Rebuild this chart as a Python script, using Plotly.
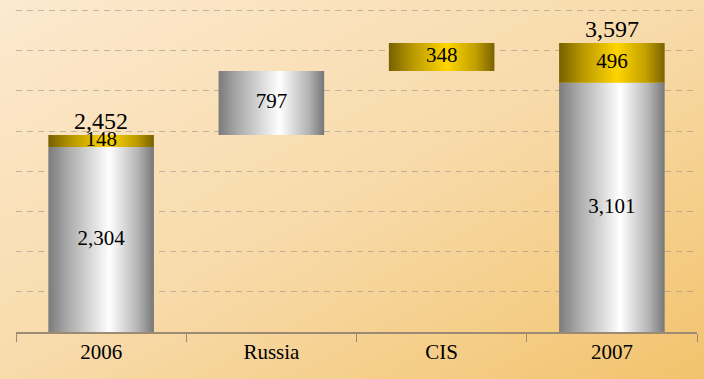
import base64
import plotly.graph_objects as go

# Waterfall: 2006 total, contributions from Russia and CIS, 2007 total
categories = ["2006", "Russia", "CIS", "2007"]
silver_values = [2304, 797, 0, 3101]   # core / Russia segment
gold_values = [148, 0, 348, 496]       # CIS segment
totals = [2452, None, None, 3597]
is_total = [True, False, False, True]

BAR_W = 0.62
FONT = "Liberation Serif, Times New Roman, serif"

SILVER = [[0.0, "#7b7b7b"], [0.18, "#a9a9a9"], [0.58, "#ffffff"],
          [0.85, "#b4b4b4"], [1.0, "#777777"]]
GOLD = [[0.0, "#766000"], [0.22, "#b89800"], [0.55, "#ffd500"],
        [0.82, "#c2a000"], [1.0, "#7a6200"]]

fig = go.Figure()


def add_block(i, bottom, top, scale):
    x0, x1 = i - BAR_W / 2, i + BAR_W / 2
    fig.add_trace(go.Scatter(
        x=[x0, x1, x1, x0, x0], y=[bottom, bottom, top, top, bottom],
        mode="lines", fill="toself", line=dict(width=0, color="rgba(0,0,0,0)"),
        fillgradient=dict(type="horizontal", colorscale=scale),
        hoverinfo="skip", showlegend=False))


label_x, label_y, label_t = [], [], []
running = 0
for i, cat in enumerate(categories):
    base = 0 if is_total[i] else running
    s, g = silver_values[i], gold_values[i]
    if s:
        add_block(i, base, base + s, SILVER)
        label_x.append(i); label_y.append(base + s / 2); label_t.append(f"{s:,}")
    if g:
        add_block(i, base + s, base + s + g, GOLD)
        label_x.append(i); label_y.append(base + s + g / 2); label_t.append(f"{g:,}")
    running = base + s + g

fig.add_trace(go.Scatter(
    x=label_x, y=label_y, text=label_t, mode="text",
    textfont=dict(family=FONT, size=21, color="#000000"),
    textposition="middle center", hoverinfo="skip", showlegend=False))

for i, t in enumerate(totals):
    if t is not None:
        fig.add_annotation(x=i, y=t, text=f"{t:,}", showarrow=False,
                           yanchor="middle", yshift=14,
                           font=dict(family=FONT, size=24, color="#000000"))

# Diagonal warm background across the whole page
svg = ('<svg xmlns="http://www.w3.org/2000/svg" width="704" height="379">'
       '<defs><linearGradient id="g" x1="0" y1="0" x2="1" y2="1">'
       '<stop offset="0" stop-color="#fce9cf"/>'
       '<stop offset="0.5" stop-color="#f8dbab"/>'
       '<stop offset="1" stop-color="#f2c36c"/>'
       '</linearGradient></defs>'
       '<rect width="704" height="379" fill="url(#g)"/></svg>')
bg_uri = "data:image/svg+xml;base64," + base64.b64encode(svg.encode()).decode()

ML, MR, MT, MB = 16, 7, 0, 47
PW, PH = 704 - ML - MR, 379 - MT - MB
fig.add_layout_image(dict(
    source=bg_uri, xref="paper", yref="paper",
    x=-ML / PW, y=1 + MT / PH, sizex=704 / PW, sizey=379 / PH,
    xanchor="left", yanchor="top", sizing="stretch", layer="below"))

fig.update_layout(
    width=704, height=379,
    margin=dict(l=ML, r=MR, t=MT, b=MB),
    paper_bgcolor="#f8dbab", plot_bgcolor="rgba(0,0,0,0)",
    font=dict(family=FONT, size=21, color="#000000"),
    xaxis=dict(range=[-0.5, 3.5], tickvals=list(range(len(categories))),
               ticktext=categories, ticks="", showgrid=False, zeroline=False,
               showline=True, linecolor="#9c8a74", linewidth=1.5,
               tickfont=dict(family=FONT, size=21, color="#000000"),
               minor=dict(tick0=-0.5, dtick=1, ticks="outside", ticklen=8,
                          tickcolor="#9c8a74", tickwidth=1, showgrid=False),
               fixedrange=True),
    yaxis=dict(range=[0, 4132], dtick=500, showticklabels=False,
               showgrid=True, gridcolor="rgba(150,140,130,0.55)",
               griddash="6px,5px", gridwidth=1, zeroline=False,
               fixedrange=True),
)

fig.write_html("out.html")
